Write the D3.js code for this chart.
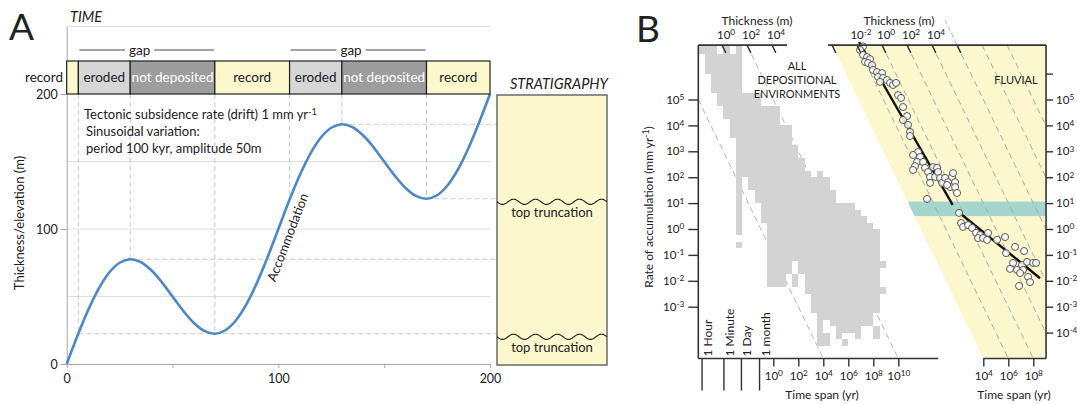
<!DOCTYPE html>
<html>
<head>
<meta charset="utf-8">
<script src="https://cdn.jsdelivr.net/npm/d3@7/dist/d3.min.js"></script>
<style>
  html, body { margin: 0; padding: 0; background: #fff; }
  svg { display: block; }
  text { font-family: Lato, "Open Sans", "DejaVu Sans", sans-serif; fill: #222; }
</style>
</head>
<body>
<svg id="fig" width="1077" height="404"></svg>
<script>
// ================= Panel A: accommodation through time =================
const curveTime = [0,5,10,15,20,25,30,35,40,45,50,55,60,65,70,75,80,85,90,95,100,
                   105,110,115,120,125,130,135,140,145,150,155,160,165,170,175,180,185,190,195,200];
const curveElevation = [0,20.5,39.4,55.5,67.6,75,77.6,75.5,69.4,60.5,50,39.5,30.6,24.5,22.4,25,32.4,44.5,60.6,79.5,100,
                        120.5,139.4,155.5,167.6,175,177.6,175.5,169.4,160.5,150,139.5,130.6,124.5,122.4,125,132.4,144.5,160.6,179.5,200];
const blockEdges  = [0, 5.5, 30, 70, 105.3, 130, 170, 200];
const blockLabels = ["", "eroded", "not deposited", "record", "eroded", "not deposited", "record"];
const blockKinds  = ["record", "eroded", "hiatus", "record", "eroded", "hiatus", "record"];
const gapStarts = [5.5, 105.3];
const gapEnds   = [70, 170];
const turnTimes  = [5.5, 30, 70, 105.3, 130, 170];
const turnLevels = [22.4, 77.6, 22.4, 122.4, 177.6, 122.4];
const levelStarts = [5.5, 30, 130, 170];
const levelValues = [22.4, 77.6, 177.6, 122.4];
const truncationLevels = [122.4, 22.4];
const gridLevels = [50, 100, 150, 250];

// ================= Panel B: accumulation rate vs time span =================
const rateExpLeft  = [5, 4, 3, 2, 1, 0, -1, -2, -3];
const rateExpRight = [6, 5, 4, 3, 2, 1, 0, -1, -2, -3, -4];
const rateLabelRight = [5, 4, 3, 2, 1, 0, -1, -2, -3, -4];
const timeExpLeft  = [0, 2, 4, 6, 8, 10];
const timeExpRight = [4, 6, 8];
const thickExpLeft  = [0, 2, 4];
const thickExpRight = [-4, -2, 0, 2, 4, 6];
const thickLabelRight = [-2, 0, 2, 4];
const guideThickLeft  = [-4, 2];
const guideThickRight = [-2, 0, 2, 4, 6, 8, 10];
const guideAboveRight = [6];
const fluvialMinThick = -4;
const durationLabels = ["1 Hour", "1 Minute", "1 Day", "1 month"];
const durationExp    = [-5.7, -3.95, -2.55, -1.1];

// compiled envelope: [top log rate, bottom log rate, [[log t from, log t to], ...]]
const envelopeRows = [
  [7.1, 6.75, [[-6,-4.5],[-4,-3.5],[-3,-2.5]]],
  [6.75, 6.0, [[-5.5,-2.5]]],
  [6.0, 5.25, [[-5,-2.5]]],
  [5.25, 4.75, [[-4.5,-1]]],
  [4.75, 4.25, [[-4,0.5]]],
  [4.25, 4.0, [[-3.5,0.5]]],
  [4.0, 3.5, [[-3.5,1.5]]],
  [3.5, 3.25, [[-3,1.5]]],
  [3.25, 2.75, [[-3,2]]],
  [2.75, 2.25, [[-3,2.5]]],
  [2.25, 2.0, [[-3,3],[3.5,4]]],
  [2.0, 1.5, [[-3,-2.5],[-2,4.5]]],
  [1.5, 1.0, [[-3,-2.5],[-1.5,5]]],
  [1.0, 0.75, [[-3,-2.5],[-1,6.5]]],
  [0.75, 0.5, [[-3,-2.5],[-1,7]]],
  [0.5, 0.25, [[-3,-2.5],[-1,7.5]]],
  [0.25, 0.0, [[-3,-2.5],[-0.5,8]]],
  [0.0, -0.25, [[-3,-2.5],[-0.5,8.5]]],
  [-0.25, -0.5, [[-0.5,8.5]]],
  [-0.5, -0.75, [[-3,-2.5],[-0.5,8.5]]],
  [-0.75, -1.25, [[-0.5,8.5]]],
  [-1.25, -1.5, [[-0.5,1.5],[2,9]]],
  [-1.5, -1.75, [[-0.5,1.5],[2,8.5]]],
  [-1.75, -2.25, [[-0.5,1],[1.5,2],[2.5,8.5]]],
  [-2.25, -2.5, [[2.5,9]]],
  [-2.5, -3.25, [[3,8.5]]],
  [-3.25, -3.5, [[3.5,8]]],
  [-3.5, -3.75, [[3.5,4],[4.5,8]]],
  [-3.75, -4.0, [[3.5,4],[5,7],[8,8.5]]],
  [-4.0, -4.25, [[3.5,4.5],[5,5.5],[6.5,7],[8,8.5]]],
  [-4.25, -4.5, [[3.5,4.5],[5.5,6]]]
];

// fluvial measurements (log10 time span in yr, log10 rate in mm/yr)
const fluvialTimeExp = [-5.62,-5.86,-5.62,-5.30,-5.46,-5.06,-5.22,-4.90,-4.82,-4.50,-4.10,-4.42,-4.02,-4.26,-3.70,-3.46,-3.22,-2.98,
  -2.82,-2.58,-2.42,-2.10,-2.42,-2.02,-1.86,-1.86,-1.22,-1.62,-1.06,-1.30,-1.46,-0.82,-0.66,-0.42,-0.02,0.30,-0.26,0.14,0.38,
  0.54,0.70,0.94,1.18,1.50,1.58,1.74,1.34,1.74,1.90,-0.50,-0.26,-1.62,1.10,
  2.06,2.22,2.38,2.78,3.10,3.42,3.74,3.58,3.98,4.30,4.38,5.10,5.74,5.82,6.54,7.26,6.38,6.70,6.14,7.10,7.18,7.50,7.98,8.22,
  7.58,7.74,6.94,6.86];
const fluvialRateExp = [7.05,6.91,6.72,6.64,6.45,6.56,6.41,6.33,6.14,6.06,6.02,5.87,5.83,5.68,5.75,5.64,5.56,5.64,
  5.17,5.06,4.71,4.36,4.21,4.02,3.75,3.59,2.97,2.86,2.78,2.59,2.43,2.59,2.36,2.20,2.39,2.36,2.01,2.01,2.20,
  1.97,1.78,1.97,1.81,2.01,2.16,1.81,1.62,1.62,1.39,1.16,1.78,2.28,1.70,
  0.62,0.23,0.08,0.15,0.04,-0.15,-0.23,-0.35,-0.35,-0.42,-0.15,-0.42,-0.31,-0.93,-0.69,-0.85,-1.31,-1.58,-1.54,-1.39,-1.58,-1.27,-1.31,-1.31,
  -1.85,-2.05,-1.70,-2.20];
const fitTimeExp = [[-5.94, 1.55], [2.14, 8.54]];
const fitRateExp = [[7.22, 0.93], [0.61, -1.90]];
const bandRateExp = [0.5, 1.06];
const bandTimeStartExp = -2.0;

// ---------------------------------------------------------------------
const svg = d3.select('#fig');
const YELLOW = '#fcf7cd';

function expText(sel, base, e) {
  sel.text(null);
  sel.append('tspan').text(base);
  sel.append('tspan').attr('dy', '-0.45em').attr('font-size', '0.72em').text(e);
}

// ----- Panel A -----
const xA = d3.scaleLinear().domain([0, 200]).range([66.7, 490]);
const yA = d3.scaleLinear().domain([0, 250]).range([364, 26.5]);
const stratLeft = 497, stratRight = 607;
const A = svg.append('g');

A.selectAll('line.grid').data(gridLevels).join('line')
  .attr('x1', xA(0)).attr('x2', xA(200))
  .attr('y1', d => yA(d)).attr('y2', d => yA(d))
  .attr('stroke', '#dedede').attr('stroke-width', 1);

// guides from each turning point
A.selectAll('line.vguide').data(turnTimes).join('line')
  .attr('x1', d => xA(d)).attr('x2', d => xA(d))
  .attr('y1', yA(200)).attr('y2', (d, i) => yA(turnLevels[i]))
  .attr('stroke', '#c9c9c9').attr('stroke-width', 1).attr('stroke-dasharray', '5,3');
A.selectAll('line.hguide').data(levelValues).join('line')
  .attr('x1', (d, i) => xA(levelStarts[i])).attr('x2', stratLeft)
  .attr('y1', d => yA(d)).attr('y2', d => yA(d))
  .attr('stroke', '#c9c9c9').attr('stroke-width', 1).attr('stroke-dasharray', '5,3');

// axes
const axY = A.append('g').attr('transform', `translate(${xA(0)},0)`)
  .call(d3.axisLeft(yA).tickValues([0, 100, 200]).tickSize(6).tickSizeOuter(0).tickPadding(3));
const axX = A.append('g').attr('transform', `translate(0,${yA(0)})`)
  .call(d3.axisBottom(xA).tickValues([0, 50, 100, 150, 200]).tickFormat(d => d % 100 === 0 ? d : '')
    .tickSize(4).tickSizeOuter(0).tickPadding(6));
[axY, axX].forEach(g => {
  g.select('.domain').attr('stroke', '#a8a8a8');
  g.selectAll('.tick line').attr('stroke', '#a8a8a8');
  g.selectAll('.tick text').attr('font-size', 12.5).attr('fill', '#222')
    .attr('font-family', 'Lato, "Open Sans", sans-serif');
});

// accommodation curve
const lineA = d3.line().x((d, i) => xA(curveTime[i])).y(d => yA(d)).curve(d3.curveCatmullRom);
A.append('path').datum(curveElevation).attr('d', lineA)
  .attr('fill', 'none').attr('stroke', '#4d87c5').attr('stroke-width', 2.6);

// time bar
const barBottom = yA(200), barH = 33;
const kindFill = { record: YELLOW, eroded: '#d6d6d6', hiatus: '#9d9d9d' };
const blocks = blockLabels.map((l, i) => ({ a: blockEdges[i], b: blockEdges[i + 1], label: l, kind: blockKinds[i] }));
A.selectAll('rect.block').data(blocks).join('rect')
  .attr('x', d => xA(d.a)).attr('width', d => xA(d.b) - xA(d.a))
  .attr('y', barBottom - barH).attr('height', barH)
  .attr('fill', d => kindFill[d.kind]).attr('stroke', '#222').attr('stroke-width', 1.2);
A.selectAll('text.block').data(blocks).join('text')
  .attr('x', d => (xA(d.a) + xA(d.b)) / 2).attr('y', barBottom - barH / 2 + 4.5)
  .attr('text-anchor', 'middle').attr('font-size', 13.5)
  .style('fill', d => d.kind === 'hiatus' ? '#fff' : '#222')
  .text(d => d.label);
A.append('text').attr('x', 63).attr('y', barBottom - barH / 2 + 4.5).attr('text-anchor', 'end')
  .attr('font-size', 13.5).text('record');

// gap brackets
gapStarts.forEach((s, i) => {
  const x0 = xA(s) + 1, x1 = xA(gapEnds[i]) - 1, cx = (x0 + x1) / 2 - 7, gy = 50;
  const t = A.append('text').attr('x', cx).attr('y', gy + 4.5).attr('text-anchor', 'middle')
    .attr('font-size', 13.5).text('gap');
  const w = t.node().getComputedTextLength();
  A.append('line').attr('x1', x0).attr('x2', cx - w / 2 - 4).attr('y1', gy).attr('y2', gy).attr('stroke', '#444');
  A.append('line').attr('x1', cx + w / 2 + 4).attr('x2', x1).attr('y1', gy).attr('y2', gy).attr('stroke', '#444');
});

// stratigraphic column
A.append('rect').attr('x', stratLeft).attr('y', yA(200) + 1).attr('width', stratRight - stratLeft)
  .attr('height', yA(0) - yA(200)).attr('fill', YELLOW).attr('stroke', '#555').attr('stroke-width', 1.3);
truncationLevels.forEach(lv => {
  const yc = yA(lv) + 3;
  const pts = d3.range(stratLeft, stratRight + 0.5, 1).map(x => [x, yc - 2.6 * Math.sin(2 * Math.PI * (x - stratLeft) / 22 + Math.PI)]);
  A.append('path').attr('d', d3.line()(pts)).attr('fill', 'none').attr('stroke', '#222').attr('stroke-width', 1.1);
  A.append('text').attr('x', (stratLeft + stratRight) / 2).attr('y', yc + 15).attr('text-anchor', 'middle')
    .attr('font-size', 13).text('top truncation');
});
A.append('text').attr('x', 559).attr('y', 89).attr('text-anchor', 'middle').attr('font-size', 14.5)
  .attr('font-style', 'italic').text('STRATIGRAPHY');

// labels
A.append('text').attr('x', 9).attr('y', 40).attr('font-size', 37).text('A');
A.append('text').attr('x', 70).attr('y', 22).attr('font-size', 14.5).attr('font-style', 'italic').text('TIME');
A.append('text').attr('transform', 'translate(24,223) rotate(-90)').attr('text-anchor', 'middle')
  .attr('font-size', 13).text('Thickness/elevation (m)');
const note1 = A.append('text').attr('x', 84).attr('y', 119).attr('font-size', 13);
note1.append('tspan').text('Tectonic subsidence rate (drift) 1 mm yr');
note1.append('tspan').attr('dy', '-0.45em').attr('font-size', '0.7em').text('-1');
A.append('text').attr('x', 86).attr('y', 136).attr('font-size', 13).text('Sinusoidal variation:');
A.append('text').attr('x', 86).attr('y', 153).attr('font-size', 13).text('period 100 kyr, amplitude 50m');
A.append('text').attr('transform', 'translate(292,239) rotate(-69)').attr('text-anchor', 'middle')
  .attr('font-size', 13).text('Accommodation');

// ----- Panel B -----
const xL = d3.scaleLog().domain([1, 1e10]).range([773.3, 898.3]);
const xR = d3.scaleLog().domain([1e4, 1e8]).range([983.3, 1033.3]);
const yB = d3.scaleLog().domain([1e-3, 1e5]).range([306.7, 99.5]);
const rTop = 10 ** 7.1, rBot = 1e-5;
const yT = yB(rTop), yBt = yB(rBot);
const lx0 = xL(1e-6), lx1 = xL(10 ** 13.2), lTopEnd = xL(10 ** 1.1);
const rx1 = xR(10 ** 9.02);
const B = svg.append('g');
const defs = svg.append('defs');

// time (yr) where a thickness (m) line meets a rate (mm/yr)
const spanFor = (hExp, r) => 10 ** hExp * 1000 / r;

// --- left: all depositional environments ---
defs.append('clipPath').attr('id', 'clipL').append('rect')
  .attr('x', lx0).attr('y', yT).attr('width', lx1 - lx0).attr('height', yBt - yT);
const gL = B.append('g').attr('clip-path', 'url(#clipL)');
gL.selectAll('line.guide').data(guideThickLeft).join('line')
  .attr('x1', h => xL(spanFor(h, rTop))).attr('y1', yT)
  .attr('x2', h => xL(spanFor(h, rBot))).attr('y2', yBt)
  .attr('stroke', '#b5b5b5').attr('stroke-width', 1).attr('stroke-dasharray', '6,4');
const cells = [];
envelopeRows.forEach(([top, bot, spans]) => spans.forEach(([a, b]) => cells.push({ top, bot, a, b })));
gL.selectAll('rect.cell').data(cells).join('rect')
  .attr('x', d => xL(10 ** d.a)).attr('width', d => xL(10 ** d.b) - xL(10 ** d.a))
  .attr('y', d => yB(10 ** d.top)).attr('height', d => yB(10 ** d.bot) - yB(10 ** d.top))
  .attr('fill', '#d3d3d3').attr('shape-rendering', 'crispEdges');

// --- right: fluvial ---
const yellowPoly = [
  [xR(spanFor(fluvialMinThick, rTop)), yT], [rx1, yT], [rx1, yBt], [xR(spanFor(fluvialMinThick, rBot)), yBt]
];
defs.append('clipPath').attr('id', 'clipR').append('path').attr('d', d3.line()(yellowPoly) + 'Z');
B.append('path').attr('d', d3.line()(yellowPoly) + 'Z').attr('fill', YELLOW);
const gR = B.append('g').attr('clip-path', 'url(#clipR)');
gR.append('rect').attr('x', xR(10 ** bandTimeStartExp)).attr('width', rx1 - xR(10 ** bandTimeStartExp))
  .attr('y', yB(10 ** bandRateExp[1])).attr('height', yB(10 ** bandRateExp[0]) - yB(10 ** bandRateExp[1]))
  .attr('fill', '#a4d6ce');
gR.selectAll('line.guide').data(guideThickRight).join('line')
  .attr('x1', h => xR(spanFor(h, rTop))).attr('y1', yT)
  .attr('x2', h => xR(spanFor(h, rBot))).attr('y2', yBt)
  .attr('stroke', '#a9a9a9').attr('stroke-width', 1).attr('stroke-dasharray', '6,4');
// a guide that carries on above the top edge
const rAbove = rTop * 10 ** 0.95;
B.selectAll('line.above').data(guideAboveRight).join('line')
  .attr('x1', h => xR(spanFor(h, rTop))).attr('y1', yT)
  .attr('x2', h => xR(spanFor(h, rAbove))).attr('y2', yB(rAbove))
  .attr('stroke', '#b5b5b5').attr('stroke-width', 1).attr('stroke-dasharray', '5,3');
B.selectAll('line.fit').data(fitTimeExp).join('line')
  .attr('x1', (d, i) => xR(10 ** d[0])).attr('x2', (d, i) => xR(10 ** d[1]))
  .attr('y1', (d, i) => yB(10 ** fitRateExp[i][0])).attr('y2', (d, i) => yB(10 ** fitRateExp[i][1]))
  .attr('stroke', '#111').attr('stroke-width', 2.4);
B.selectAll('circle.obs').data(fluvialTimeExp).join('circle')
  .attr('cx', d => xR(10 ** d)).attr('cy', (d, i) => yB(10 ** fluvialRateExp[i])).attr('r', 3.5)
  .attr('fill', '#fff').attr('fill-opacity', 0.85).attr('stroke', '#555').attr('stroke-width', 1);

// frames
const frame = (x1, y1, x2, y2) => B.append('line').attr('x1', x1).attr('y1', y1).attr('x2', x2).attr('y2', y2)
  .attr('stroke', '#333').attr('stroke-width', 1.6);
frame(lx0, yT, lx0, yBt);
frame(lx0, yBt, lx1, yBt);
frame(lx0, yT, lTopEnd, yT);
frame(yellowPoly[0][0] - 4, yT, rx1, yT);
frame(rx1, yT, rx1, yBt);
frame(yellowPoly[3][0], yBt, rx1, yBt);

function styleAxis(g, labelFn) {
  g.select('.domain').remove();
  g.selectAll('.tick line').attr('stroke', '#333').attr('stroke-width', 1.4);
  g.selectAll('.tick text').attr('font-size', 11.5).attr('fill', '#222')
    .attr('font-family', 'Lato, "Open Sans", sans-serif')
    .each(function (d) { const e = labelFn(d); const s = d3.select(this); if (e === null) s.text(''); else expText(s, '10', e); });
}
const lg = (d) => Math.round(Math.log10(d));
styleAxis(B.append('g').attr('transform', `translate(${lx0},0)`)
  .call(d3.axisLeft(yB).tickValues(rateExpLeft.map(e => 10 ** e)).tickSize(10).tickSizeOuter(0).tickPadding(4)), lg);
styleAxis(B.append('g').attr('transform', `translate(${rx1},0)`)
  .call(d3.axisRight(yB).tickValues(rateExpRight.map(e => 10 ** e)).tickSize(7).tickSizeOuter(0).tickPadding(3)),
  d => rateLabelRight.includes(lg(d)) ? lg(d) : null);
styleAxis(B.append('g').attr('transform', `translate(0,${yBt})`)
  .call(d3.axisBottom(xL).tickValues(timeExpLeft.map(e => 10 ** e)).tickSize(8).tickSizeOuter(0).tickPadding(5)), lg);
styleAxis(B.append('g').attr('transform', `translate(0,${yBt})`)
  .call(d3.axisBottom(xR).tickValues(timeExpRight.map(e => 10 ** e)).tickSize(8).tickSizeOuter(0).tickPadding(5)), lg);

// thickness ticks on the top edges (slanted along constant-thickness lines)
function thickTicks(xs, exps, labelled) {
  exps.forEach(h => {
    const t = spanFor(h, rTop);
    B.append('line').attr('x1', xs(t)).attr('y1', yT).attr('x2', xs(t * 2)).attr('y2', yB(rTop / 2))
      .attr('stroke', '#333').attr('stroke-width', 1.4);
    if (labelled.includes(h)) {
      B.append('text').attr('x', xs(t) + 4).attr('y', 39).attr('text-anchor', 'middle').attr('font-size', 11.5)
        .call(s => expText(s, '10', h));
    }
  });
}
thickTicks(xL, thickExpLeft, thickExpLeft);
thickTicks(xR, thickExpRight, thickLabelRight);
B.append('text').attr('x', 757).attr('y', 25).attr('text-anchor', 'middle').attr('font-size', 12).text('Thickness (m)');
B.append('text').attr('x', 899).attr('y', 25).attr('text-anchor', 'middle').attr('font-size', 12).text('Thickness (m)');

// reference durations below the time axis
durationExp.forEach((e, i) => {
  const x = xL(10 ** e);
  B.append('line').attr('x1', x).attr('x2', x).attr('y1', yBt).attr('y2', yBt + 32).attr('stroke', '#333').attr('stroke-width', 1.4);
  B.append('text').attr('transform', `translate(${x + 10},${yBt - 2}) rotate(-90)`).attr('font-size', 12).text(durationLabels[i]);
});

B.append('text').attr('x', 822).attr('y', 399).attr('text-anchor', 'middle').attr('font-size', 12).text('Time span (yr)');
B.append('text').attr('x', 1014).attr('y', 399).attr('text-anchor', 'middle').attr('font-size', 12).text('Time span (yr)');
const yt = B.append('text').attr('transform', 'translate(653,207) rotate(-90)').attr('text-anchor', 'middle').attr('font-size', 12);
yt.append('tspan').text('Rate of accumulation (mm yr');
yt.append('tspan').attr('dy', '-0.45em').attr('font-size', '0.72em').text('-1');
yt.append('tspan').attr('dy', '0.32em').text(')');

['ALL', 'DEPOSITIONAL', 'ENVIRONMENTS'].forEach((s, i) =>
  B.append('text').attr('x', 797).attr('y', 69.5 + 14 * i).attr('text-anchor', 'middle').attr('font-size', 11).text(s));
B.append('text').attr('x', 1016).attr('y', 83.5).attr('text-anchor', 'middle').attr('font-size', 11).text('FLUVIAL');
B.append('text').attr('x', 636).attr('y', 42).attr('font-size', 37).text('B');
</script>
</body>
</html>
